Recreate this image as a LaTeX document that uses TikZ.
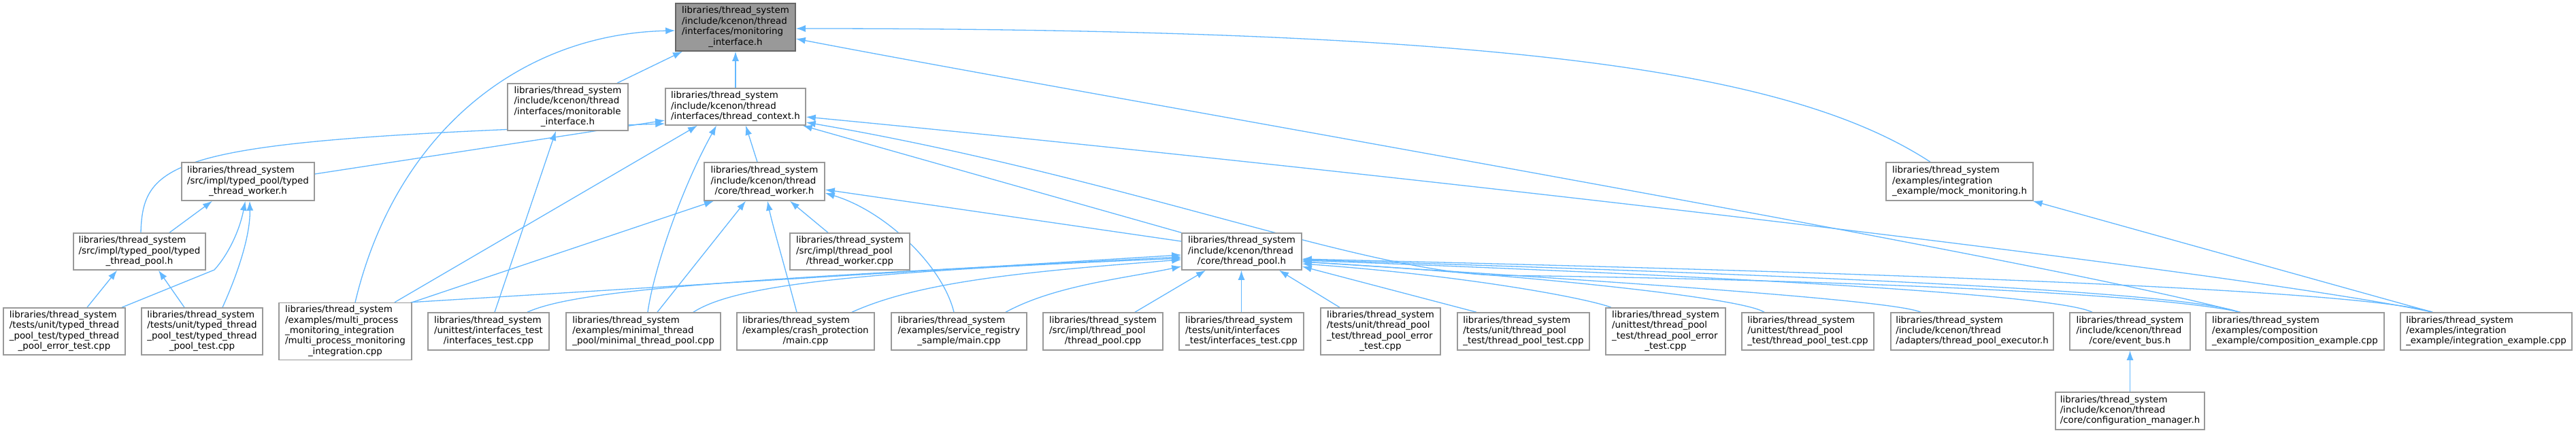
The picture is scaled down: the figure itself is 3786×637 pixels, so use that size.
\documentclass[tikz,border=0pt]{standalone}
\usepackage{fontspec}
\setmainfont{DejaVu Sans}
\usetikzlibrary{arrows.meta,backgrounds}
\definecolor{edgec}{HTML}{63B8FF}
\definecolor{boxc}{HTML}{999999}
\definecolor{rootfill}{HTML}{999999}
\definecolor{rootline}{HTML}{666666}
\newcommand\dlab[2]{\begin{tabular}{@{}l@{}}#1\\\multicolumn{1}{@{}c@{}}{#2}\end{tabular}}
\begin{document}
\begin{tikzpicture}[x=1pt,y=-1pt,
  nodebox/.style={draw=boxc, line width=1.5pt, fill=white, inner sep=0pt, text=black,
    font=\fontsize{13.4}{15.4}\selectfont},
  rootbox/.style={nodebox, draw=rootline, fill=rootfill},
  edge/.style={draw=edgec, line width=1.3pt, -{Latex[length=14pt,width=10pt]}}]
\useasboundingbox (0,0) rectangle (3786,637);

% rank 1
\node[rootbox, minimum width=176pt, minimum height=70pt] (root) at (1081,40)
  {\dlab{libraries/thread\_system\\/include/kcenon/thread\\/interfaces/monitoring}{\_interface.h}};
% rank 2
\node[nodebox, minimum width=177pt, minimum height=69pt] (monit) at (834.5,157.5)
  {\dlab{libraries/thread\_system\\/include/kcenon/thread\\/interfaces/monitorable}{\_interface.h}};
\node[nodebox, minimum width=206pt, minimum height=54pt] (tctx) at (1081,157)
  {\dlab{libraries/thread\_system\\/include/kcenon/thread}{/interfaces/thread\_context.h}};
% rank 3
\node[nodebox, minimum width=195pt, minimum height=56pt] (tworker) at (364.5,267)
  {\dlab{libraries/thread\_system\\/src/impl/typed\_pool/typed}{\_thread\_worker.h}};
\node[nodebox, minimum width=177pt, minimum height=56pt] (worker) at (1123.5,267)
  {\dlab{libraries/thread\_system\\/include/kcenon/thread}{/core/thread\_worker.h}};
\node[nodebox, minimum width=216pt, minimum height=56pt] (mock) at (2880,267)
  {\dlab{libraries/thread\_system\\/examples/integration}{\_example/mock\_monitoring.h}};
% rank 4
\node[nodebox, minimum width=194pt, minimum height=54pt] (tpool) at (205,370)
  {\dlab{libraries/thread\_system\\/src/impl/typed\_pool/typed}{\_thread\_pool.h}};
\node[nodebox, minimum width=176pt, minimum height=54pt] (wcpp) at (1249,370)
  {\dlab{libraries/thread\_system\\/src/impl/thread\_pool}{/thread\_worker.cpp}};
\node[nodebox, minimum width=176pt, minimum height=54pt] (pool) at (1825,370)
  {\dlab{libraries/thread\_system\\/include/kcenon/thread}{/core/thread\_pool.h}};
% rank 5
\node[nodebox, minimum width=179pt, minimum height=69pt] (terror) at (94.5,487.5)
  {\dlab{libraries/thread\_system\\/tests/unit/typed\_thread\\\_pool\_test/typed\_thread}{\_pool\_error\_test.cpp}};
\node[nodebox, minimum width=178pt, minimum height=69pt] (ttest) at (297,487.5)
  {\dlab{libraries/thread\_system\\/tests/unit/typed\_thread\\\_pool\_test/typed\_thread}{\_pool\_test.cpp}};
\node[nodebox, minimum width=195pt, minimum height=84pt] (multi) at (507.5,487.5)
  {\dlab{libraries/thread\_system\\/examples/multi\_process\\\_monitoring\_integration\\/multi\_process\_monitoring}{\_integration.cpp}};
\node[nodebox, minimum width=178pt, minimum height=55pt] (utif) at (718,487.5)
  {\dlab{libraries/thread\_system\\/unittest/interfaces\_test}{/interfaces\_test.cpp}};
\node[nodebox, minimum width=227pt, minimum height=55pt] (minimal) at (945.5,487.5)
  {\dlab{libraries/thread\_system\\/examples/minimal\_thread}{\_pool/minimal\_thread\_pool.cpp}};
\node[nodebox, minimum width=202pt, minimum height=55pt] (crash) at (1184,487.5)
  {\dlab{libraries/thread\_system\\/examples/crash\_protection}{/main.cpp}};
\node[nodebox, minimum width=199pt, minimum height=55pt] (service) at (1409.5,487.5)
  {\dlab{libraries/thread\_system\\/examples/service\_registry}{\_sample/main.cpp}};
\node[nodebox, minimum width=176pt, minimum height=55pt] (pcpp) at (1621,487.5)
  {\dlab{libraries/thread\_system\\/src/impl/thread\_pool}{/thread\_pool.cpp}};
\node[nodebox, minimum width=183pt, minimum height=55pt] (tuif) at (1824.5,487.5)
  {\dlab{libraries/thread\_system\\/tests/unit/interfaces}{\_test/interfaces\_test.cpp}};
\node[nodebox, minimum width=176pt, minimum height=69pt] (tuerr) at (2029,487.5)
  {\dlab{libraries/thread\_system\\/tests/unit/thread\_pool\\\_test/thread\_pool\_error}{\_test.cpp}};
\node[nodebox, minimum width=194pt, minimum height=55pt] (tutest) at (2239,487.5)
  {\dlab{libraries/thread\_system\\/tests/unit/thread\_pool}{\_test/thread\_pool\_test.cpp}};
\node[nodebox, minimum width=176pt, minimum height=69pt] (uterr) at (2448,487.5)
  {\dlab{libraries/thread\_system\\/unittest/thread\_pool\\\_test/thread\_pool\_error}{\_test.cpp}};
\node[nodebox, minimum width=194pt, minimum height=55pt] (uttest) at (2657,487.5)
  {\dlab{libraries/thread\_system\\/unittest/thread\_pool}{\_test/thread\_pool\_test.cpp}};
\node[nodebox, minimum width=239pt, minimum height=55pt] (exec) at (2898.5,487.5)
  {\dlab{libraries/thread\_system\\/include/kcenon/thread}{/adapters/thread\_pool\_executor.h}};
\node[nodebox, minimum width=177pt, minimum height=55pt] (ebus) at (3130.5,487.5)
  {\dlab{libraries/thread\_system\\/include/kcenon/thread}{/core/event\_bus.h}};
\node[nodebox, minimum width=262pt, minimum height=55pt] (comp) at (3373,487.5)
  {\dlab{libraries/thread\_system\\/examples/composition}{\_example/composition\_example.cpp}};
\node[nodebox, minimum width=252pt, minimum height=55pt] (integ) at (3654,487.5)
  {\dlab{libraries/thread\_system\\/examples/integration}{\_example/integration\_example.cpp}};
% rank 6
\node[nodebox, minimum width=219pt, minimum height=55pt] (config) at (3130.5,604.5)
  {\dlab{libraries/thread\_system\\/include/kcenon/thread}{/core/configuration\_manager.h}};

\begin{scope}[on background layer]
\fill[white] (0,0) rectangle (3786,637);
% into root
\draw[edge] ([xshift=72.5pt]monit.north) -- ([xshift=-78pt]root.south);
\draw[edge] (tctx.north) -- (root.south);
\draw[edge] ([xshift=14.5pt]multi.north) .. controls (580,200) and (760,50) .. ([yshift=-5pt]root.west);
\draw[edge] ([xshift=-43pt]mock.north) .. controls (2640,110) and (2250,42) .. ([yshift=-2pt]root.east);
\draw[edge] ([xshift=-82pt]comp.north) .. controls (3000,380) and (1600,140) .. ([yshift=-17pt]root.east);
% into monitorable
\draw[edge] ([xshift=9pt]utif.north) -- ([xshift=-17.5pt]monit.south);
% into thread_context
\draw[edge] ([xshift=72.5pt]multi.north) -- ([xshift=-56pt]tctx.south);
\draw[edge] ([xshift=6.5pt]minimal.north) .. controls (960,400) and (1000,280) .. ([xshift=-28pt]tctx.south);
\draw[edge] ([xshift=-10.5pt]worker.north) -- ([xshift=15pt]tctx.south);
\draw[edge] ([yshift=11pt]tworker.east) -- ([yshift=-20pt]tctx.west);
\draw[edge] ([xshift=2pt]tpool.north) .. controls (210,230) and (260,205) .. ([yshift=-25pt]tctx.west);
\draw[edge] (pool.north west) -- ([xshift=-5pt]tctx.south east);
\draw[edge] ([xshift=-80pt]comp.north) .. controls (3150,428) and (2600,410) .. (2200,405)
  .. controls (2000,400) and (1650,260) .. ([yshift=-23pt]tctx.east);
\draw[edge] ([xshift=-79pt]integ.north) .. controls (3300,400) and (2000,250) .. ([yshift=-15pt]tctx.east);
% into typed thread worker
\draw[edge] ([xshift=44pt]tpool.north) -- ([xshift=-52.5pt]tworker.south);
\draw[edge] ([xshift=84.5pt]terror.north) -- (315,397) .. controls (335,375) and (352,340) .. ([xshift=-4pt]tworker.south);
\draw[edge] ([xshift=30pt]ttest.north) .. controls (355,390) and (368,340) .. ([xshift=2.5pt]tworker.south);
% into typed thread pool
\draw[edge] ([xshift=33.5pt]terror.north) -- ([xshift=-33pt]tpool.south);
\draw[edge] ([xshift=-26pt]ttest.north) -- ([xshift=28pt]tpool.south);
% into thread worker
\draw[edge] (multi.north east) -- ([xshift=-74.5pt]worker.south);
\draw[edge] ([xshift=20.5pt]minimal.north) -- ([xshift=-27.5pt]worker.south);
\draw[edge] ([xshift=-13pt]crash.north) .. controls (1150,380) and (1135,330) .. ([xshift=4.5pt]worker.south);
\draw[edge] ([xshift=-32pt]wcpp.north) -- ([xshift=37.5pt]worker.south);
\draw[edge] ([xshift=-7.5pt]service.north) .. controls (1385,390) and (1300,310) .. ([yshift=-17pt]worker.east);
\draw[edge] ([yshift=15pt]pool.west) -- ([yshift=-12pt]worker.east);
% into thread pool
\draw[edge] ([xshift=-2pt]multi.north east) -- ([yshift=-5pt]pool.west);
\draw[edge] ([xshift=57pt]utif.north) .. controls (850,425) and (1100,410) .. ([yshift=-8pt]pool.west);
\draw[edge] ([xshift=73.5pt]minimal.north) .. controls (1080,420) and (1250,400) .. ([yshift=-10pt]pool.west);
\draw[edge] ([xshift=68pt]crash.north) .. controls (1350,415) and (1500,400) .. ([yshift=-12pt]pool.west);
\draw[edge] ([xshift=68.5pt]service.north) .. controls (1550,420) and (1650,410) .. ([yshift=-22pt]pool.west);
\draw[edge] ([xshift=47pt]pcpp.north) -- ([xshift=-53pt]pool.south);
\draw[edge] (tuif.north) -- ([xshift=-0.5pt]pool.south);
\draw[edge] ([xshift=-60pt]tuerr.north) -- ([xshift=55pt]pool.south);
\draw[edge] ([xshift=-69pt]tutest.north) -- ([yshift=-22pt]pool.east);
\draw[edge] ([xshift=-80pt]uterr.north) .. controls (2330,438) and (2150,405) .. ([yshift=-18pt]pool.east);
\draw[edge] ([xshift=-64pt]uttest.north) .. controls (2560,438) and (2250,405) .. ([yshift=-15pt]pool.east);
\draw[edge] ([xshift=-75.5pt]exec.north) .. controls (2780,440) and (2300,410) .. ([yshift=-15pt]pool.east);
\draw[edge] ([xshift=-55.5pt]ebus.north) .. controls (3020,432) and (2500,405) .. ([yshift=-13pt]pool.east);
\draw[edge] ([xshift=-82pt]comp.north) .. controls (3200,425) and (2500,400) .. ([yshift=-12pt]pool.east);
\draw[edge] ([xshift=-79pt]integ.north) .. controls (3450,420) and (2500,395) .. ([yshift=-11pt]pool.east);
% into mock monitoring
\draw[edge] ([xshift=-79pt]integ.north) -- ([xshift=-1pt]mock.south east);
% into event bus
\draw[edge] (config.north) -- (ebus.south);
\end{scope}
\end{tikzpicture}
\end{document}
